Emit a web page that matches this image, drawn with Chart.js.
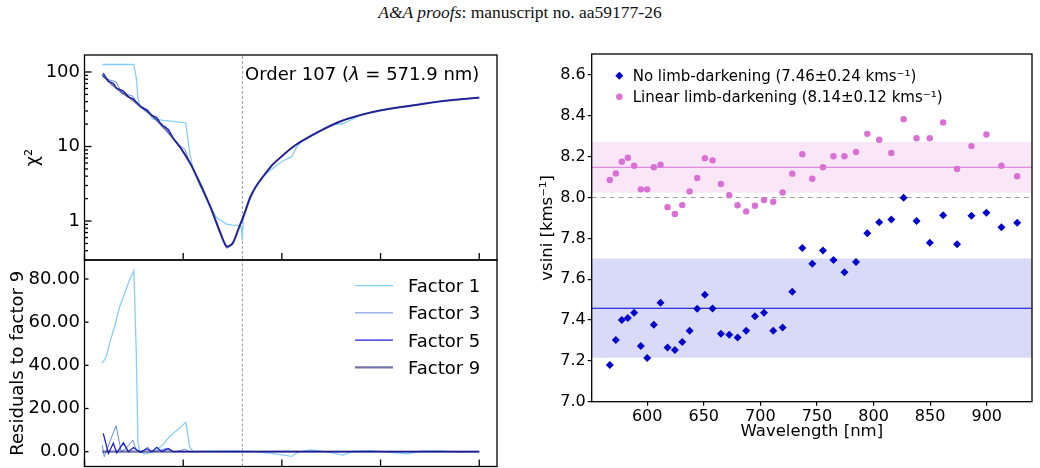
<!DOCTYPE html>
<html>
<head>
<meta charset="utf-8">
<script src="https://cdn.jsdelivr.net/npm/chart.js@4.4.1/dist/chart.umd.min.js"></script>
<style>
html, body { margin: 0; padding: 0; background: #fff; }
body { position: relative; width: 1040px; height: 468px; overflow: hidden; }
canvas { position: absolute; }
#hdr { position: absolute; left: 0; top: 2px; width: 1040px; text-align: center;
       font: 17.5px "Liberation Serif", "Times New Roman", serif; line-height: 20px; color: #111; }
</style>
</head>
<body>
<div id="hdr"><i>A&amp;A proofs</i>: manuscript no. aa59177-26</div>
<canvas id="chi" width="510" height="260" style="left:0;top:30px"></canvas>
<canvas id="res" width="510" height="255" style="left:0;top:235px"></canvas>
<canvas id="vs" width="530" height="438" style="left:510px;top:30px"></canvas>
<script>
// ---- left panels: chi2 against trial vsini (order 107) ----
const factorNames = ['Factor 1', 'Factor 3', 'Factor 5', 'Factor 9'];
const factorCols = ['rgb(135,206,250)', 'rgb(100,140,225)', 'rgb(30,30,215)', 'rgba(25,25,112,0.6)'];
const trueV = 8.0;
const vLim = [0, 20.9];
const vTicks = [0, 5, 10, 15, 20];

const chiX1 = [0.9,2.5,2.62,2.71,2.8,3.05,3.3,3.45,4.0,4.5,5.13,5.33,5.5,5.8,6.18,6.68,7.19,7.5,7.87,7.95,
               7.99,8.05,8.3,8.6,9.05,9.5,10.0,10.5,10.75,11.0,12.0,12.5,13.1,13.6,14,15,16,16.4,17,18,19,20];
const chi1  = [126,126,85,44,35,31,27.5,23.5,22.4,21.7,20.7,8.3,5.0,3.2,1.96,1.12,0.91,0.88,0.87,0.8,
               0.55,1.1,1.7,2.6,4.0,5.0,6.3,7.3,9.8,11.6,16.5,19.5,20.2,23.5,26.5,30.5,33.7,34.0,37,40.2,42.8,45.4];
const chiX3 = [0.9,1.0,1.3,1.6,1.86,2.1,2.45,2.62,2.9,3.2,3.35,3.7,4.15,4.4,4.8,5.08,5.3,5.9,6.4,6.9,
               7.2,7.5,7.8,8.1,8.4,8.7,9.0,9.5,10,10.5,11,12,13,14,15,16,17,18,19,20];
const chi3  = [94,83.7,77.5,74,54,50.5,47.4,39.5,33,31.3,27,22.2,18.1,13.8,10.5,9.2,6.4,3.1,1.45,0.64,
               0.43,0.48,0.8,1.3,2.1,2.95,3.8,5.6,7.4,9.6,11.8,16.5,21.9,26.5,30.5,33.7,36.8,40.2,42.8,45.4];
const chiX5 = [0.95,1.21,1.46,1.63,1.97,2.22,2.48,2.82,3.16,3.41,3.66,3.92,4.25,4.51,4.9,5.36,5.9,6.4,6.9,7.2,
               7.5,7.8,8.1,8.4,8.7,9.0,9.5,10,10.5,11,12,13,14,15,16,17,18,19,20];
const chi5  = [97,75.2,70.4,60.5,55.6,46.5,43.4,34.7,30.9,26.2,24.5,19.2,17,12.8,9.3,6.0,3.0,1.5,0.68,0.45,
               0.5,0.78,1.25,2.1,2.95,3.8,5.6,7.4,9.6,11.8,16.5,21.9,26.5,30.5,33.7,36.8,40.2,42.8,45.4];
const chiX9 = [0.9,1.4,1.9,2.4,2.9,3.4,3.9,4.4,4.9,5.4,5.9,6.4,6.9,7.2,7.5,7.8,8.1,8.4,8.7,9.0,
               9.5,10,10.5,11,12,13,14,15,16,17,18,19,20];
const chi9  = [91,68,53,43,33.5,26.3,19.4,13.8,9.3,5.6,3.0,1.5,0.68,0.46,0.50,0.78,1.25,2.1,2.95,3.8,
               5.6,7.4,9.6,11.8,16.5,21.9,26.5,30.5,33.7,36.8,40.2,42.8,45.4];
const chiLim = [0.31, 169];
const chiMajor = [1, 10, 100];
const chiMinor = [0.4,0.5,0.6,0.7,0.8,0.9,2,3,4,5,6,7,8,9,20,30,40,50,60,70,80,90];

// residuals to factor 9
const resX1 = [0.9,1.1,1.27,1.52,1.78,2.03,2.28,2.5,2.62,2.71,2.8,3.05,3.3,3.64,4.0,4.31,4.7,5.13,5.33,5.5,
               6.5,7.5,8.5,9.5,10.0,10.5,10.8,11.5,12.5,13.1,13.6,14.5,15.5,16.4,17.0,18.0,19.0,20.0];
const res1  = [40.9,44,50.2,57.9,67.1,73.3,79.5,83.8,47,3.9,0,-1,-0.5,0.8,3.5,7,10,13.6,2.3,0,
               0.3,0.4,0.1,-0.8,-1.5,-2.2,-0.2,0.8,-0.4,-1.6,0.2,0.5,-0.3,-1.0,0.3,0.4,-0.2,0];
const resX3 = [0.9,1.0,1.3,1.6,1.86,2.1,2.45,2.62,2.9,3.2,3.35,3.7,4.15,4.4,4.8,5.08,5.3,6,8,10,14,20];
const res3  = [3,-2.3,5,12,0,1.5,5.4,0.8,-0.5,2.3,0,0.2,1.6,0,0.3,1.2,0,0.1,0,0.2,0,0];
const resX5 = [0.95,1.21,1.46,1.63,1.97,2.22,2.48,2.82,3.16,3.41,3.66,3.92,4.25,4.51,5.36,8,12,20];
const res5  = [8.5,-0.8,3.9,-0.5,4.1,0,1.9,-0.3,1.4,0,2.0,0,1.5,0,0,0,0,0];
const resX9 = [0.9, 20];
const res9  = [0, 0];
const resLim = [-6.86, 88.8];
const resTicks = [0, 20, 40, 60, 80];

// ---- right panel: vsini per order ----
const wavelength = [567.0,572.3,577.6,582.9,588.5,594.4,600.0,605.9,611.8,618.0,
                    624.5,631.0,637.5,644.2,651.0,657.8,665.2,672.5,679.9,687.5,
                    695.2,703.2,711.4,719.7,728.2,737.1,745.9,755.3,764.6,774.3,
                    784.5,794.5,805.0,815.7,826.6,838.0,849.7,861.5,873.8,886.5,
                    899.7,913.0,926.9];
const vsiniNoLD = [7.18,7.302,7.40,7.41,7.436,7.273,7.214,7.377,7.485,7.266,
                   7.253,7.292,7.348,7.455,7.524,7.457,7.333,7.328,7.315,7.348,
                   7.418,7.436,7.348,7.364,7.539,7.753,7.676,7.741,7.694,7.634,
                   7.684,7.825,7.879,7.893,7.999,7.885,7.779,7.913,7.771,7.911,
                   7.926,7.854,7.877];
const vsiniLinLD = [8.086,8.118,8.175,8.195,8.156,8.040,8.040,8.148,8.161,7.953,
                    7.919,7.963,8.030,8.096,8.193,8.182,8.066,8.011,7.962,7.932,
                    7.960,7.988,7.979,8.025,8.117,8.212,8.092,8.148,8.202,8.202,
                    8.223,8.312,8.283,8.218,8.384,8.290,8.290,8.368,8.140,8.252,
                    8.309,8.156,8.104];
const fitNoLD = [7.458, 0.243];   // mean, spread
const fitLinLD = [8.148, 0.124];
const wlLim = [551, 940];
const wlTicks = [600, 650, 700, 750, 800, 850, 900];
const vsLim = [7.0, 8.703];
const vsTicks = [7.0, 7.2, 7.4, 7.6, 7.8, 8.0, 8.2, 8.4, 8.6];
const fitNames = ['No limb-darkening (7.46±0.24 kms⁻¹)', 'Linear limb-darkening (8.14±0.12 kms⁻¹)'];

const DV = '"DejaVu Sans", sans-serif';
Chart.defaults.font.family = DV;
Chart.defaults.color = '#000';
Chart.defaults.animation = false;

const pts = (xs, ys) => xs.map((x, i) => ({x: x, y: ys[i]}));

// box round the plot area plus inward ticks (matplotlib look)
const frameTicks = {
  id: 'frameTicks',
  afterDatasetsDraw(chart, args, o) {
    const {ctx, chartArea: a, scales} = chart;
    ctx.save();
    ctx.strokeStyle = '#000';
    ctx.lineWidth = 1.3;
    (o.marks || []).forEach(m => {
      const s = scales[m.axis];
      m.vals.forEach(v => {
        const p = s.getPixelForValue(v);
        ctx.beginPath();
        if (m.axis === 'x') { ctx.moveTo(p, a.bottom); ctx.lineTo(p, a.bottom - m.len); }
        else { ctx.moveTo(a.left, p); ctx.lineTo(a.left + m.len, p); }
        ctx.stroke();
      });
    });
    ctx.strokeRect(a.left, a.top, a.right - a.left, a.bottom - a.top);
    ctx.restore();
  }
};

// legend drawn inside the plot area
const keyBox = {
  id: 'keyBox',
  afterDraw(chart, args, o) {
    if (!o.rows) return;
    const {ctx, chartArea: a} = chart;
    ctx.save();
    ctx.font = o.size + 'px ' + DV;
    o.rows.forEach((r, i) => {
      const ds = chart.data.datasets[r];
      const y = a.top + o.y + i * o.gap;
      const x = a.left + o.x;
      if (o.kind === 'line') {
        ctx.strokeStyle = ds.borderColor;
        ctx.lineWidth = ds.borderWidth;
        ctx.beginPath(); ctx.moveTo(x, y); ctx.lineTo(x + o.len, y); ctx.stroke();
      } else {
        const rad = ds.pointRadius;
        ctx.fillStyle = ds.backgroundColor;
        ctx.beginPath();
        if (ds.pointStyle === 'rectRot') {
          ctx.moveTo(x, y - rad); ctx.lineTo(x + rad, y); ctx.lineTo(x, y + rad); ctx.lineTo(x - rad, y);
          ctx.closePath();
        } else {
          ctx.arc(x, y, rad, 0, 2 * Math.PI);
        }
        ctx.fill();
      }
      ctx.fillStyle = '#000';
      ctx.fillText(ds.label, a.left + o.tx, y + o.size * 0.365);
    });
    ctx.restore();
  }
};

// "Order 107 (λ = 571.9 nm)" label
const note = {
  id: 'note',
  afterDraw(chart, args, o) {
    if (!o.parts) return;
    const {ctx, chartArea: a} = chart;
    ctx.save();
    ctx.fillStyle = '#000';
    let x = a.left + o.x;
    o.parts.forEach(p => {
      ctx.font = (p.italic ? 'italic ' : '') + o.size + 'px ' + DV;
      ctx.fillText(p.t, x, a.top + o.y);
      x += ctx.measureText(p.t).width;
    });
    ctx.restore();
  }
};

const noGrid = {display: false, drawTicks: false};

// top-left: chi2
new Chart(document.getElementById('chi'), {
  type: 'scatter',
  data: {
    datasets: [
      {label: factorNames[0], data: pts(chiX1, chi1), borderColor: factorCols[0], borderWidth: 1.3, order: 4},
      {label: factorNames[1], data: pts(chiX3, chi3), borderColor: factorCols[1], borderWidth: 1, order: 3},
      {label: factorNames[2], data: pts(chiX5, chi5), borderColor: factorCols[2], borderWidth: 1.3, order: 2, tension: 0.2},
      {label: factorNames[3], data: pts(chiX9, chi9), borderColor: factorCols[3], borderWidth: 2.2, order: 1, tension: 0.3},
      {label: 'true', data: pts([trueV, trueV], chiLim), borderColor: '#9a9a9a', borderWidth: 1, borderDash: [3, 2], order: 5}
    ]
  },
  options: {
    responsive: false,
    events: [],
    layout: {padding: {top: 25, right: 13, bottom: 26, left: 0}},
    datasets: {scatter: {showLine: true, pointRadius: 0}},
    scales: {
      x: {type: 'linear', min: vLim[0], max: vLim[1], ticks: {display: false}, grid: noGrid,
          border: {display: false}, afterFit: s => { s.height = 4; }},
      y: {type: 'logarithmic', min: chiLim[0], max: chiLim[1],
          afterBuildTicks: s => { s.ticks = chiMajor.map(v => ({value: v})); },
          ticks: {autoSkip: false, padding: 4.5, font: {size: 18}, callback: v => String(v)},
          grid: noGrid, border: {display: false},
          title: {display: true, text: 'χ²', font: {size: 18}, padding: {top: 23, bottom: 0}},
          afterFit: s => { s.width = 84.5; }}
    },
    plugins: {
      legend: {display: false},
      tooltip: {enabled: false},
      frameTicks: {marks: [{axis: 'x', vals: vTicks, len: 7},
                           {axis: 'y', vals: chiMajor, len: 7},
                           {axis: 'y', vals: chiMinor, len: 3.5}]},
      note: {x: 160.5, y: 25, size: 18,
             parts: [{t: 'Order 107 ('}, {t: 'λ', italic: true}, {t: ' = 571.9 nm)'}]}
    }
  },
  plugins: [frameTicks, note]
});

// bottom-left: residuals
new Chart(document.getElementById('res'), {
  type: 'scatter',
  data: {
    datasets: [
      {label: factorNames[0], data: pts(resX1, res1), borderColor: factorCols[0], borderWidth: 1.3, order: 4},
      {label: factorNames[1], data: pts(resX3, res3), borderColor: factorCols[1], borderWidth: 1, order: 3},
      {label: factorNames[2], data: pts(resX5, res5), borderColor: factorCols[2], borderWidth: 1.3, order: 2},
      {label: factorNames[3], data: pts(resX9, res9), borderColor: factorCols[3], borderWidth: 2.2, order: 1},
      {label: 'true', data: pts([trueV, trueV], resLim), borderColor: '#9a9a9a', borderWidth: 1, borderDash: [3, 2], order: 5}
    ]
  },
  options: {
    responsive: false,
    events: [],
    layout: {padding: {top: 25, right: 13, bottom: 19.5, left: 0}},
    datasets: {scatter: {showLine: true, pointRadius: 0}},
    scales: {
      x: {type: 'linear', min: vLim[0], max: vLim[1], ticks: {display: false}, grid: noGrid,
          border: {display: false}, afterFit: s => { s.height = 4; }},
      y: {type: 'linear', min: resLim[0], max: resLim[1],
          afterBuildTicks: s => { s.ticks = resTicks.map(v => ({value: v})); },
          ticks: {autoSkip: false, padding: 4.5, font: {size: 18}, callback: v => v.toFixed(2)},
          grid: noGrid, border: {display: false},
          title: {display: true, text: 'Residuals to factor 9', font: {size: 18}, padding: {top: 7.2, bottom: 0}},
          afterFit: s => { s.width = 84.5; }}
    },
    plugins: {
      legend: {display: false},
      tooltip: {enabled: false},
      frameTicks: {marks: [{axis: 'x', vals: vTicks, len: 7},
                           {axis: 'y', vals: resTicks, len: 4}]},
      keyBox: {kind: 'line', rows: [0, 1, 2, 3], x: 270.5, len: 38, tx: 323.5, y: 25.7, gap: 27.2, size: 18}
    }
  },
  plugins: [frameTicks, keyBox]
});

// right: vsini against wavelength
const bandNoLD = [fitNoLD[0] + fitNoLD[1], fitNoLD[0] + fitNoLD[1]];
const bandLinLD = [fitLinLD[0] + fitLinLD[1], fitLinLD[0] + fitLinLD[1]];
new Chart(document.getElementById('vs'), {
  type: 'scatter',
  data: {
    datasets: [
      {label: fitNames[0], data: pts(wavelength, vsiniNoLD), pointStyle: 'rectRot', pointRadius: 4,
       backgroundColor: 'rgb(0,0,205)', borderWidth: 0, order: 1},
      {label: fitNames[1], data: pts(wavelength, vsiniLinLD), pointStyle: 'circle', pointRadius: 3.2,
       backgroundColor: 'rgb(218,112,214)', borderWidth: 0, order: 1},
      {label: 'mean no LD', data: pts(wlLim, [fitNoLD[0], fitNoLD[0]]), showLine: true, pointRadius: 0,
       borderColor: 'rgb(0,0,225)', borderWidth: 1.1, order: 2},
      {label: 'mean linear LD', data: pts(wlLim, [fitLinLD[0], fitLinLD[0]]), showLine: true, pointRadius: 0,
       borderColor: 'rgb(218,112,214)', borderWidth: 1.1, order: 2},
      {label: 'true', data: pts(wlLim, [trueV, trueV]), showLine: true, pointRadius: 0,
       borderColor: '#a0a0a0', borderWidth: 1.1, borderDash: [5, 4], order: 2},
      {label: 'band no LD', data: pts(wlLim, bandNoLD), showLine: true, pointRadius: 0, borderWidth: 0,
       fill: {value: fitNoLD[0] - fitNoLD[1]}, backgroundColor: 'rgba(0,0,205,0.15)', order: 3},
      {label: 'band linear LD', data: pts(wlLim, bandLinLD), showLine: true, pointRadius: 0, borderWidth: 0,
       fill: {value: fitLinLD[0] - fitLinLD[1]}, backgroundColor: 'rgba(218,112,214,0.17)', order: 3}
    ]
  },
  options: {
    responsive: false,
    events: [],
    layout: {padding: {top: 24, right: 8, bottom: 0, left: 0}},
    scales: {
      x: {type: 'linear', min: wlLim[0], max: wlLim[1],
          afterBuildTicks: s => { s.ticks = wlTicks.map(v => ({value: v})); },
          ticks: {autoSkip: false, maxRotation: 0, padding: 2, font: {size: 16}},
          grid: {display: true, drawOnChartArea: false, drawTicks: true, tickLength: 4, color: '#000', lineWidth: 1.2},
          border: {display: false},
          title: {display: true, text: 'Wavelength [nm]', font: {size: 16.5}, padding: {top: 0, bottom: 26}},
          afterFit: s => { s.height = 66.3; }},
      y: {type: 'linear', min: vsLim[0], max: vsLim[1],
          afterBuildTicks: s => { s.ticks = vsTicks.map(v => ({value: v})); },
          ticks: {autoSkip: false, padding: 2, font: {size: 16}, callback: v => v.toFixed(1)},
          grid: {display: true, drawOnChartArea: false, drawTicks: true, tickLength: 4, color: '#000', lineWidth: 1.2},
          border: {display: false},
          title: {display: true, text: 'vsini [kms⁻¹]', font: {size: 16.5}, padding: {top: 28, bottom: 0}},
          afterFit: s => { s.width = 81.7; }}
    },
    plugins: {
      legend: {display: false},
      tooltip: {enabled: false},
      frameTicks: {marks: []},
      keyBox: {kind: 'point', rows: [0, 1], x: 27.6, tx: 41, y: 21.7, gap: 21, size: 15}
    }
  },
  plugins: [frameTicks, keyBox]
});
</script>
</body>
</html>
